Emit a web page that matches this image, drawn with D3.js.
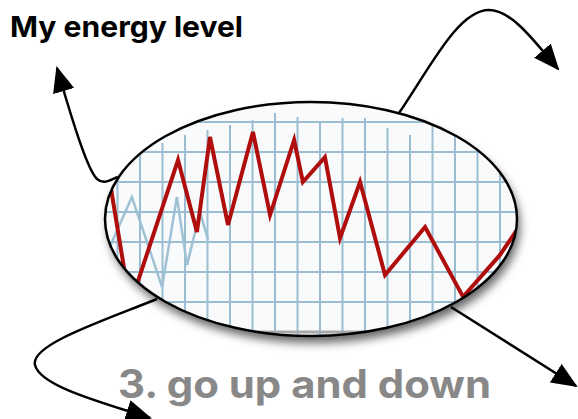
<!DOCTYPE html>
<html>
<head>
<meta charset="utf-8">
<script src="https://cdn.jsdelivr.net/npm/d3@7"></script>
<style>
  html, body { margin: 0; padding: 0; background: #fff; }
  svg { display: block; font-family: Inter, "Liberation Sans", Arial, sans-serif; }
</style>
</head>
<body>
<div id="main-container"></div>
<script>
// Data (grid units: x = column, y = energy level)
const RED_X = [-0.6, 0.56, 2.69, 3.53, 4.11, 4.91, 6.02, 6.78, 7.85, 8.24, 9.22, 9.89, 10.78, 11.89, 13.67, 15.36, 17.0, 18.2];
const RED_Y = [6.2, 0.9, 5.73, 3.33, 6.5, 3.57, 6.67, 3.9, 6.4, 5.0, 5.83, 3.13, 5.0, 1.9, 3.5, 1.17, 2.57, 3.9];
const BLUE_X = [-0.6, 0.64, 1.98, 2.64, 3.09, 3.67, 4.02];
const BLUE_Y = [2.4, 4.5, 1.5, 4.5, 2.23, 4.0, 3.07];
const GRID_COLS = d3.range(0, 19);
const GRID_ROWS = d3.range(0, 8);
// top end of each vertical grid line (ragged edge of the pasted grid)
const COL_TOP = [7.0, 6.4, 6.3, 6.57, 6.73, 6.9, 7.07, 7.3, 7.17, 7.0, 7.13, 7.13, 6.8, 6.57, 7.7, 7.7, 7.7, 7.7, 7.7];
const TITLE = 'My energy level';
const CAPTION = '3. go up and down';

const W = 578, H = 419;
const ELLIPSE = { cx: 311, cy: 219, rx: 206, ry: 117 };

const SVG = d3.select('#main-container').append('svg')
    .attr('width', W)
    .attr('height', H);

const defs = SVG.append('defs');
defs.append('clipPath').attr('id', 'clip')
    .append('ellipse')
    .attr('cx', ELLIPSE.cx).attr('cy', ELLIPSE.cy)
    .attr('rx', ELLIPSE.rx).attr('ry', ELLIPSE.ry);

const shadow = defs.append('filter').attr('id', 'shadow')
    .attr('x', '-20%').attr('y', '-20%').attr('width', '140%').attr('height', '150%');
shadow.append('feDropShadow')
    .attr('dx', 3).attr('dy', 7).attr('stdDeviation', 5)
    .attr('flood-color', '#000').attr('flood-opacity', 0.6);

defs.append('marker').attr('id', 'arrow')
    .attr('viewBox', '0 0 26 22')
    .attr('refX', 24).attr('refY', 11)
    .attr('markerWidth', 26).attr('markerHeight', 22)
    .attr('markerUnits', 'userSpaceOnUse')
    .attr('orient', 'auto')
    .append('path')
    .attr('d', 'M0,0 L26,11 L0,22 Z')
    .attr('fill', '#000');

// Scales
const X_SCALE = d3.scaleLinear().domain([0, 17]).range([117.5, 500]);
const Y_SCALE = d3.scaleLinear().domain([0, 6]).range([332, 152]);

// Arrows (drawn first so the ellipse covers their starts)
const ARROWS = [
    'M118,177 C110,180 104,185 97,179 C88,170 75,130 57,68',
    'M399,113 C430,68 458,10 489,10 C512,10 535,42 558,69',
    'M157,299 C100,322 30,345 35,365 C40,386 100,402 150,418',
    'M451,307 L576,386'
];
SVG.append('g').selectAll('path')
    .data(ARROWS).enter()
    .append('path')
    .attr('d', d => d)
    .attr('fill', 'none')
    .attr('stroke', '#000')
    .attr('stroke-width', 2.5)
    .attr('marker-end', 'url(#arrow)');

// Ellipse with shadow
SVG.append('ellipse')
    .attr('cx', ELLIPSE.cx).attr('cy', ELLIPSE.cy)
    .attr('rx', ELLIPSE.rx).attr('ry', ELLIPSE.ry)
    .attr('fill', '#f8fafb')
    .attr('filter', 'url(#shadow)');

const inner = SVG.append('g').attr('clip-path', 'url(#clip)');

// Grid
inner.append('g').selectAll('line')
    .data(GRID_ROWS.slice(1)).enter()
    .append('line')
    .attr('x1', 90).attr('x2', 540)
    .attr('y1', d => Y_SCALE(d)).attr('y2', d => Y_SCALE(d))
    .attr('stroke', '#9bbdd1').attr('stroke-width', 2);
inner.append('g').selectAll('line')
    .data(GRID_COLS).enter()
    .append('line')
    .attr('x1', d => X_SCALE(d)).attr('x2', d => X_SCALE(d))
    .attr('y1', (d, i) => Y_SCALE(COL_TOP[i])).attr('y2', Y_SCALE(-1))
    .attr('stroke', '#9bbdd1').attr('stroke-width', 2);
inner.append('line')
    .attr('x1', 90).attr('x2', 540)
    .attr('y1', Y_SCALE(0)).attr('y2', Y_SCALE(0))
    .attr('stroke', '#a9a9a9').attr('stroke-width', 3);

const line = d3.line().x(d => X_SCALE(d[0])).y(d => Y_SCALE(d[1]));

// Faint blue series
inner.append('path')
    .datum(BLUE_X.map((x, i) => [x, BLUE_Y[i]]))
    .attr('d', line)
    .attr('fill', 'none')
    .attr('stroke', '#9fc1d4')
    .attr('stroke-width', 2.5)
    .attr('stroke-linejoin', 'miter');

// Red energy line
inner.append('path')
    .datum(RED_X.map((x, i) => [x, RED_Y[i]]))
    .attr('d', line)
    .attr('fill', 'none')
    .attr('stroke', '#b00d0d')
    .attr('stroke-width', 4)
    .attr('stroke-linejoin', 'miter');

// Ellipse outline
SVG.append('ellipse')
    .attr('cx', ELLIPSE.cx).attr('cy', ELLIPSE.cy)
    .attr('rx', ELLIPSE.rx).attr('ry', ELLIPSE.ry)
    .attr('fill', 'none')
    .attr('stroke', '#000')
    .attr('stroke-width', 2.5);

// Texts
SVG.append('text')
    .attr('x', 10).attr('y', 37)
    .attr('textLength', 233).attr('lengthAdjust', 'spacingAndGlyphs')
    .style('font-size', '29px')
    .style('font-weight', 'bold')
    .attr('fill', '#000')
    .text(TITLE);

SVG.append('text')
    .attr('x', 118).attr('y', 398)
    .attr('textLength', 373).attr('lengthAdjust', 'spacingAndGlyphs')
    .style('font-size', '39px')
    .style('font-weight', 'bold')
    .attr('fill', '#888888')
    .text(CAPTION);
</script>
</body>
</html>
